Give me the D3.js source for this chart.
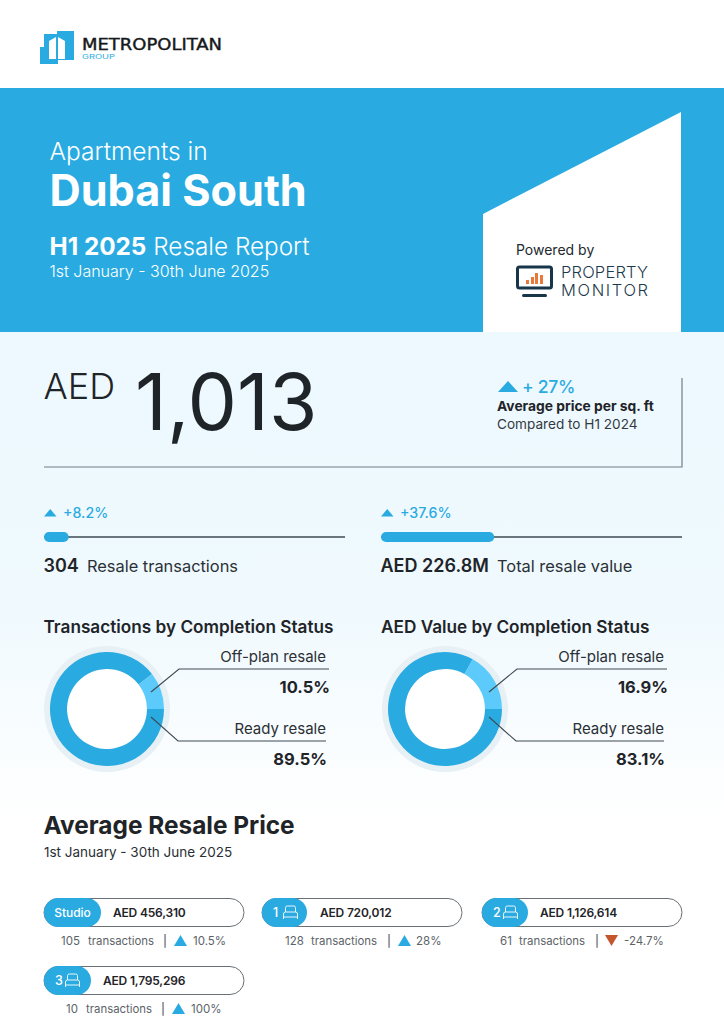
<!DOCTYPE html>
<html>
<head>
<meta charset="utf-8">
<script src="https://cdn.jsdelivr.net/npm/d3@7"></script>
<style>
  html, body { margin: 0; padding: 0; background: #fff; }
  svg { display: block; }
  text { font-family: Inter, "Noto Sans", sans-serif; }
</style>
</head>
<body>
<div id="chart"></div>
<script>
// --- chart values ---
const barLabels = ["Resale transactions", "Total resale value"];
const barTotals = ["304", "AED 226.8M"];
const barGrowth = [8.2, 37.6];

const statusLabels = ["Ready resale", "Off-plan resale"];
const donutTitles = ["Transactions by Completion Status", "AED Value by Completion Status"];
const transactionShares = [89.5, 10.5];
const valueShares = [83.1, 16.9];

const unitTypes = ["Studio", "1", "2", "3"];
const unitPrices = ["AED 456,310", "AED 720,012", "AED 1,126,614", "AED 1,795,296"];
const unitTransactions = [105, 128, 61, 10];
const unitChanges = [10.5, 28, -24.7, 100];

// --- colours ---
const blue = "#29abe2";
const lightBlue = "#5ccbfb";
const dark = "#1f2428";
const grey = "#5c6368";
const rule = "#3d4a52";
const red = "#c4552d";

const svg = d3.select("#chart").append("svg")
  .attr("width", 724)
  .attr("height", 1024);

const defs = svg.append("defs");
const fade = defs.append("linearGradient")
  .attr("id", "fade")
  .attr("x1", 0).attr("x2", 0).attr("y1", 0).attr("y2", 1);
fade.append("stop").attr("offset", "0%").attr("stop-color", "#edf9ff");
fade.append("stop").attr("offset", "55%").attr("stop-color", "#eff9fe");
fade.append("stop").attr("offset", "100%").attr("stop-color", "#ffffff");

function label(g, x, y, str, size, weight, color, anchor) {
  return g.append("text")
    .attr("x", x)
    .attr("y", y)
    .attr("font-size", size)
    .attr("font-weight", weight)
    .attr("fill", color)
    .attr("text-anchor", anchor || "start")
    .text(str);
}

function triangle(g, x, y, w, h, color, down) {
  const pts = down
    ? [[x, y], [x + w, y], [x + w / 2, y + h]]
    : [[x, y + h], [x + w, y + h], [x + w / 2, y]];
  g.append("path").attr("d", d3.line()(pts) + "Z").attr("fill", color);
}

// --- backgrounds ---
svg.append("rect").attr("width", 724).attr("height", 1024).attr("fill", "#fff");
svg.append("rect").attr("y", 332).attr("width", 724).attr("height", 490).attr("fill", "url(#fade)");
svg.append("rect").attr("y", 88).attr("width", 724).attr("height", 244).attr("fill", blue);
svg.append("path")
  .attr("d", d3.line()([[483, 214], [681, 112], [681, 332], [483, 332]]) + "Z")
  .attr("fill", "#fff");

// --- logo ---
const logo = svg.append("g");
logo.append("path").attr("d", "M44 34H57V31H74V60H58V64H40V47H44Z").attr("fill", blue);
logo.append("path").attr("d", "M49 59V41L56 37V59Z").attr("fill", "#fff");
logo.append("path").attr("d", "M58 59V37L65 41V59Z").attr("fill", "#fff");
label(logo, 82, 49.5, "METROPOLITAN", 15, 400, "#16191c")
  .attr("textLength", 140).attr("lengthAdjust", "spacingAndGlyphs")
  .attr("stroke", "#16191c").attr("stroke-width", 0.4)
  .style("font-family", "'DejaVu Sans'");
label(logo, 82, 58.5, "GROUP", 5.5, 400, blue)
  .attr("textLength", 33).attr("lengthAdjust", "spacingAndGlyphs");

// --- banner ---
const banner = svg.append("g");
label(banner, 49.5, 160, "Apartments in", 24.5, 300, "#fff");
label(banner, 49.5, 206, "Dubai South", 43.2, 700, "#fff");
const reportLine = label(banner, 49.5, 255, "", 24.3, 300, "#fff");
reportLine.append("tspan").attr("font-weight", 700).text("H1 2025");
reportLine.append("tspan").text(" Resale Report");
label(banner, 49.5, 277, "1st January - 30th June 2025", 16, 300, "#fff");

label(banner, 516, 255, "Powered by", 14, 400, "#22282d");
banner.append("rect").attr("x", 517.5).attr("y", 267).attr("width", 34).attr("height", 21)
  .attr("rx", 2).attr("fill", "#fff").attr("stroke", "#17364a").attr("stroke-width", 3);
banner.append("rect").attr("x", 522).attr("y", 294).attr("width", 25).attr("height", 3)
  .attr("rx", 1.5).attr("fill", "#17364a");
[[526, 4], [531, 7], [535, 11], [540, 9]].forEach(d => {
  banner.append("rect").attr("x", d[0]).attr("y", 284 - d[1]).attr("width", 3).attr("height", d[1])
    .attr("fill", "#e8793a");
});
label(banner, 561, 278, "PROPERTY", 16.5, 300, "#1d3a4d").attr("textLength", 87);
label(banner, 561, 296, "MONITOR", 16.5, 300, "#1d3a4d").attr("textLength", 87);

// --- headline price ---
const headline = svg.append("g");
label(headline, 43.5, 399, "AED", 36, 300, dark);
label(headline, 135, 430, "1,013", 78.5, 400, dark);
headline.append("path")
  .attr("d", d3.line()([[44, 467], [682, 467], [682, 378]]))
  .attr("fill", "none").attr("stroke", "#6f7f88").attr("stroke-width", 1.2);
triangle(headline, 498, 381, 20, 11, blue);
label(headline, 522, 393, "+ 27%", 17.5, 500, blue).style("letter-spacing", "-0.3px");
label(headline, 497, 411, "Average price per sq. ft", 13.8, 700, dark);
label(headline, 497, 429, "Compared to H1 2024", 13.6, 400, "#33393e");

// --- progress bars ---
const columnLeft = [44, 381];
const barTextGap = [43, 116];

barGrowth.forEach((growth, i) => {
  const x0 = columnLeft[i];
  const x = d3.scaleLinear().domain([0, 100]).range([x0, x0 + 301]);
  const g = svg.append("g");
  triangle(g, x0, 509, 12.5, 7.5, blue);
  label(g, x0 + 19, 518, "+" + growth + "%", 14.2, 500, blue);
  g.append("line")
    .attr("x1", x(0)).attr("x2", x(100))
    .attr("y1", 537).attr("y2", 537)
    .attr("stroke", rule).attr("stroke-width", 1.3);
  g.append("rect")
    .attr("x", x(0)).attr("y", 532)
    .attr("width", x(growth) - x(0)).attr("height", 10)
    .attr("rx", 5).attr("fill", blue);
  label(g, x0 - 0.5, 572, barTotals[i], 18, 600, dark);
  label(g, x0 + barTextGap[i], 572, barLabels[i], 16.4, 400, "#2a3035");
});

// --- donuts ---
// ready slice starts at 3 o'clock and runs clockwise, off-plan closes the ring
const pie = d3.pie().sort(null)
  .startAngle(Math.PI / 2)
  .endAngle(Math.PI / 2 + 2 * Math.PI);
const arc = d3.arc().innerRadius(40).outerRadius(57);
const sliceColor = d3.scaleOrdinal().domain(statusLabels).range([blue, lightBlue]);

function drawDonut(shares, title, cx, right) {
  const g = svg.append("g");
  label(g, right === 329 ? 43.5 : 381, 633, title, 17.2, 600, dark);

  const ring = g.append("g").attr("transform", `translate(${cx},709)`);
  ring.append("circle").attr("r", 63).attr("fill", "#e7f0f5");
  ring.append("circle").attr("r", 40).attr("fill", "#fff");
  ring.selectAll("path")
    .data(pie(shares))
    .enter()
    .append("path")
    .attr("d", arc)
    .attr("fill", (d, i) => sliceColor(statusLabels[i]));

  // leaders
  g.append("path")
    .attr("d", d3.line()([[cx + 44, 692], [cx + 72, 669], [right, 669]]))
    .attr("fill", "none").attr("stroke", rule).attr("stroke-width", 1.1);
  g.append("path")
    .attr("d", d3.line()([[cx + 44, 717], [cx + 71, 741], [right - 3, 741]]))
    .attr("fill", "none").attr("stroke", rule).attr("stroke-width", 1.1);

  label(g, right - 3, 662, statusLabels[1], 15, 400, "#2a3035", "end");
  label(g, right + 1, 693, shares[1] + "%", 16.5, 700, dark, "end");
  label(g, right - 3, 734, statusLabels[0], 15, 400, "#2a3035", "end");
  label(g, right - 2, 765, shares[0] + "%", 16.5, 700, dark, "end");
}

drawDonut(transactionShares, donutTitles[0], 107, 329);
drawDonut(valueShares, donutTitles[1], 445, 667);

// --- average resale price ---
const section = svg.append("g");
label(section, 43.5, 834, "Average Resale Price", 24.4, 700, dark);
label(section, 44, 857, "1st January - 30th June 2025", 13.5, 400, "#2a3035");

// layout per pill: left edge, top, blue cap width, price x, then the row underneath
const pillX = [44, 262, 482, 44];
const pillY = [898, 898, 898, 966];
const capW = [57, 45, 46, 47];
const priceX = [113, 320, 540, 103];
const rowX = [[61, 88, 163, 174, 193], [285, 311, 387, 398, 416], [500, 519, 595, 605, 624], [66, 86, 161, 172, 191]];

function bedIcon(g, x, y) {
  g.append("path")
    .attr("d", `M${x + 2} ${y + 6}V${y + 1.5}Q${x + 2} ${y} ${x + 4} ${y}H${x + 10}Q${x + 12} ${y} ${x + 12} ${y + 1.5}V${y + 6}`
      + `M${x} ${y + 11}V${y + 8}Q${x} ${y + 6} ${x + 2} ${y + 6}H${x + 12}Q${x + 14} ${y + 6} ${x + 14} ${y + 8}V${y + 11}H${x}M${x} ${y + 13}V${y + 11}M${x + 14} ${y + 13}V${y + 11}`)
    .attr("fill", "none").attr("stroke", "#fff").attr("stroke-width", 0.9);
}

unitTypes.forEach((unit, i) => {
  const g = svg.append("g");
  const x = pillX[i], y = pillY[i];
  g.append("rect")
    .attr("x", x).attr("y", y + 0.5).attr("width", 200).attr("height", 28)
    .attr("rx", 14).attr("fill", "#fff").attr("fill-opacity", 0.5)
    .attr("stroke", "#6a7176").attr("stroke-width", 1);
  g.append("rect")
    .attr("x", x).attr("y", y).attr("width", capW[i]).attr("height", 29)
    .attr("rx", 14.5).attr("fill", blue);

  if (unit === "Studio") {
    label(g, x + capW[i] / 2, y + 19, unit, 12, 500, "#fff", "middle");
  } else {
    label(g, x + 11, y + 19, unit, 12.5, 500, "#fff");
    bedIcon(g, x + 21.5, y + 8);
  }
  label(g, priceX[i], y + 19, unitPrices[i], 12, 600, dark).style("letter-spacing", "-0.2px");

  const row = rowX[i];
  const base = y + 47;
  const change = unitChanges[i];
  label(g, row[0], base, unitTransactions[i], 11.5, 400, grey);
  label(g, row[1], base, "transactions", 11.4, 400, grey);
  label(g, row[2], base, "|", 11.5, 500, grey);
  triangle(g, row[3], base - 10, 13, 11, change < 0 ? red : blue, change < 0);
  label(g, row[4], base, change + "%", 11.5, 400, grey);
});
</script>
</body>
</html>
